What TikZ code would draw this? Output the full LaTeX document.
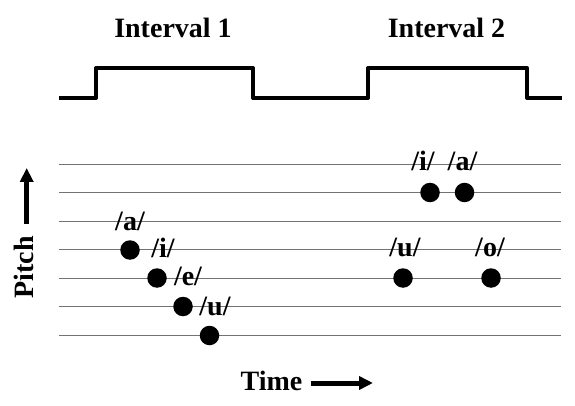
\documentclass[tikz,border=0pt]{standalone}
\usepackage{fontspec}
\setmainfont{Liberation Serif}
\usetikzlibrary{arrows.meta}
\begin{document}
\begin{tikzpicture}[x=1pt,y=-1pt,
  lbl/.style={font=\fontsize{28}{34}\selectfont\bfseries, inner sep=0pt, anchor=base},
  dot/.style={circle, fill=black, minimum size=19.5pt, inner sep=0pt},
  staff/.style={draw=black!55, line width=0.9pt},
  wave/.style={line width=4pt, line join=round},
  bigarrow/.style={line width=5pt, -{Triangle[length=14pt,width=13pt]}}]
\useasboundingbox (0,0) rectangle (575,406);

% titles
\node[lbl] (int1) at (173,38) {Interval 1};
\node[lbl] (int2) at (446.5,38) {Interval 2};

% waveform
\draw[wave] (59,98) -- (96,98) -- (96,68) -- (253,68) -- (253,98) -- (368,98) -- (368,68) -- (527,68) -- (527,98) -- (562,98);

% staff lines
\foreach \yy in {164,192.5,221,249.5,278,306.5,335.5}
  \draw[staff] (59,\yy) -- (561,\yy);

% dots interval 1
\node[dot] (d1) at (130,250) {};
\node[dot] (d2) at (157,278) {};
\node[dot] (d3) at (183,306.5) {};
\node[dot] (d4) at (209.5,335.5) {};
% dots interval 2
\node[dot] (d5) at (430,192.5) {};
\node[dot] (d6) at (464.5,192.5) {};
\node[dot] (d7) at (403,278) {};
\node[dot] (d8) at (491,278) {};

% vowel labels
\node[lbl] (la1) at (130,230) {/a/};
\node[lbl] (li1) at (163,257) {/i/};
\node[lbl] (le1) at (188,285.5) {/e/};
\node[lbl] (lu1) at (215,315) {/u/};
\node[lbl] (li2) at (423,171) {/i/};
\node[lbl] (la2) at (462.5,171) {/a/};
\node[lbl] (lu2) at (405,256) {/u/};
\node[lbl] (lo2) at (490,256) {/o/};

% axes labels
\node[lbl, rotate=90] (pitch) at (33,267.5) {Pitch};
\coordinate (p0) at (26.7,224);
\coordinate (p1) at (26.7,168);
\draw[bigarrow] (p0) -- (p1);

\node[lbl] (time) at (271.5,390) {Time};
\coordinate (t0) at (311,383);
\coordinate (t1) at (373,383);
\draw[bigarrow] (t0) -- (t1);
\end{tikzpicture}
\end{document}
